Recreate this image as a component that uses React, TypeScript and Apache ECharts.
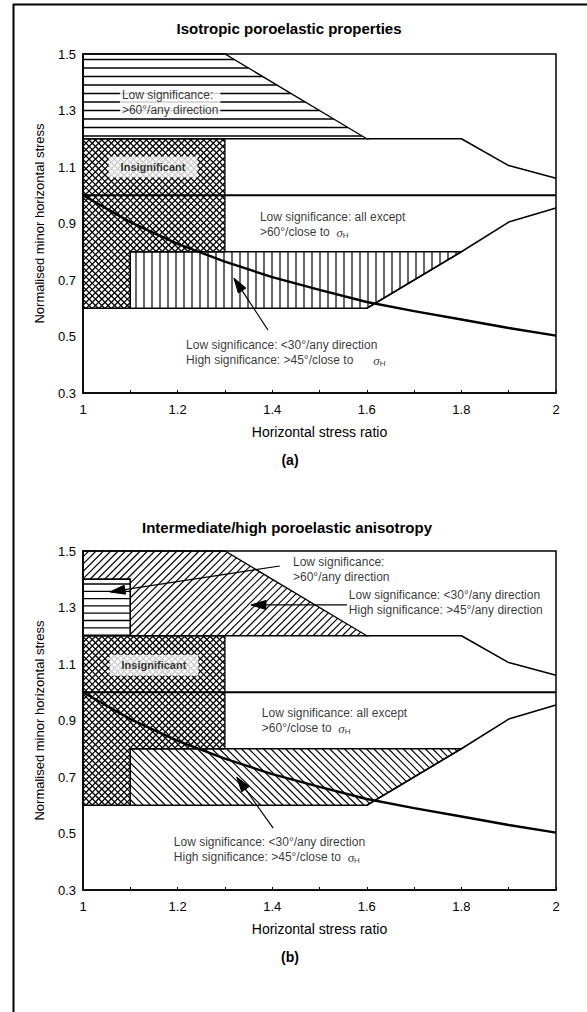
import React, { useEffect, useRef } from 'react';
import * as echarts from 'echarts';

const FONT = "'Liberation Sans', Arial, Helvetica, sans-serif";

// ---- tick labels ----
const xTickLabels = ['1', '1.2', '1.4', '1.6', '1.8', '2'];
const yTickLabels = ['0.3', '0.5', '0.7', '0.9', '1.1', '1.3', '1.5'];

// ---- decreasing curve ----
const curveX = [1, 1.1, 1.2, 1.3, 1.4, 1.5, 1.6, 1.7, 1.8, 1.9, 2];
const curveY = [1.0, 0.905, 0.828, 0.765, 0.71, 0.665, 0.622, 0.59, 0.56, 0.53, 0.503];

// ---- boundary lines ----
const upperBoundary = [[1.6, 1.2], [1.8, 1.2], [1.9, 1.105], [2, 1.06]];
const lowerBoundary = [[1.6, 0.6], [1.8, 0.8], [1.9, 0.905], [2, 0.955]];
const unityLine = [[1, 1], [2, 1]];

// ---- regions ----
const regionTopA = [[1, 1.5], [1.3, 1.5], [1.6, 1.2], [1, 1.2]];
const regionInsig = [[1, 1.2], [1.3, 1.2], [1.3, 0.8], [1.1, 0.8], [1.1, 0.6], [1, 0.6]];
const regionLow = [[1.1, 0.8], [1.8, 0.8], [1.6, 0.6], [1.1, 0.6]];
const regionTopB = [[1, 1.5], [1.3, 1.5], [1.6, 1.2], [1.1, 1.2], [1.1, 1.4], [1, 1.4]];
const regionSmallB = [[1, 1.2], [1.1, 1.2], [1.1, 1.4], [1, 1.4]];

// ---- arrows [x tail, y tail, x tip, y tip] ----
const arrowsA = [[1.391, 0.523, 1.319, 0.707]];
const arrowsB = [
  [1.416, 1.447, 1.057, 1.355],
  [1.558, 1.309, 1.355, 1.309],
  [1.402, 0.519, 1.325, 0.7],
];

// ---- annotation texts ----
const notesA = [
  { at: [1.078, 1.328], text: 'Low significance:\n>60°/any direction', boxed: true },
  { at: [1.148, 1.1], text: 'Insignificant', bold: true },
  { at: [1.374, 0.896], text: 'Low significance: all except\n>60°/close to  {s|σ}{h|H}' },
  { at: [1.218, 0.443], text: 'Low significance: <30°/any direction\nHigh significance: >45°/close to      {s|σ}{h|H}' },
];
const notesB = [
  { at: [1.444, 1.435], text: 'Low significance:\n>60°/any direction' },
  { at: [1.562, 1.318], text: 'Low significance: <30°/any direction\nHigh significance: >45°/any direction' },
  { at: [1.15, 1.096], text: 'Insignificant', bold: true },
  { at: [1.378, 0.9], text: 'Low significance: all except\n>60°/close to  {s|σ}{h|H}' },
  { at: [1.192, 0.443], text: 'Low significance: <30°/any direction\nHigh significance: >45°/close to  {s|σ}{h|H}' },
];

function hatchLines(pts: number[][], angleDeg: number, gap: number) {
  const a = (angleDeg * Math.PI) / 180;
  const dx = Math.cos(a), dy = Math.sin(a);
  const nx = -dy, ny = dx;
  const proj = pts.map((p) => p[0] * nx + p[1] * ny);
  const cmin = Math.min(...proj), cmax = Math.max(...proj);
  const segs: number[][] = [];
  for (let c = Math.ceil((cmin + 0.01) / gap) * gap; c < cmax; c += gap) {
    const ts: number[] = [];
    for (let i = 0; i < pts.length; i++) {
      const j = (i + 1) % pts.length;
      const A = pts[i], B = pts[j];
      const pa = proj[i], pb = proj[j];
      if ((pa <= c && c < pb) || (pb <= c && c < pa)) {
        const s = (c - pa) / (pb - pa);
        const qx = A[0] + s * (B[0] - A[0]);
        const qy = A[1] + s * (B[1] - A[1]);
        ts.push(qx * dx + qy * dy);
      }
    }
    ts.sort((u, v) => u - v);
    for (let k = 0; k + 1 < ts.length; k += 2) {
      segs.push([c * nx + ts[k] * dx, c * ny + ts[k] * dy, c * nx + ts[k + 1] * dx, c * ny + ts[k + 1] * dy]);
    }
  }
  return segs;
}

type Region = { poly: number[][]; angles: number[]; gap: number; lw: number };

function buildChart(idx: number, regions: Region[], arrows: number[][], notes: any[]) {
  const series: any[] = [];
  series.push({
    type: 'custom',
    xAxisIndex: idx,
    yAxisIndex: idx,
    silent: true,
    z: 2,
    data: regions.map((r) => [r.poly[0][0], r.poly[0][1]]),
    renderItem: (params: any, api: any) => {
      const r = regions[params.dataIndex];
      const pts = r.poly.map((p) => api.coord(p));
      const children: any[] = [];
      r.angles.forEach((ang) => {
        hatchLines(pts, ang, r.gap).forEach((s) => {
          children.push({
            type: 'line',
            shape: { x1: s[0], y1: s[1], x2: s[2], y2: s[3] },
            style: { stroke: '#000', lineWidth: r.lw },
          });
        });
      });
      children.push({
        type: 'polygon',
        shape: { points: pts },
        style: { fill: 'none', stroke: '#000', lineWidth: 1.3 },
      });
      return { type: 'group', children };
    },
  });
  const lineSer = (data: number[][], w: number) => ({
    type: 'line',
    xAxisIndex: idx,
    yAxisIndex: idx,
    data,
    symbol: 'none',
    silent: true,
    z: 5,
    lineStyle: { color: '#000', width: w },
  });
  series.push(lineSer(curveX.map((x, i) => [x, curveY[i]]), 2.4));
  series.push(lineSer(upperBoundary, 1.6));
  series.push(lineSer(lowerBoundary, 1.6));
  series.push(lineSer(unityLine, 2));
  series.push({
    type: 'custom',
    xAxisIndex: idx,
    yAxisIndex: idx,
    silent: true,
    z: 8,
    encode: { x: [0, 2], y: [1, 3] },
    data: arrows,
    renderItem: (params: any, api: any) => {
      const p1 = api.coord([api.value(0), api.value(1)]);
      const p2 = api.coord([api.value(2), api.value(3)]);
      const ang = Math.atan2(p2[1] - p1[1], p2[0] - p1[0]);
      const L = 15, W = 4.5;
      const c = Math.cos(ang), s = Math.sin(ang);
      const bx = p2[0] - L * c, by = p2[1] - L * s;
      return {
        type: 'group',
        children: [
          { type: 'line', shape: { x1: p1[0], y1: p1[1], x2: bx, y2: by }, style: { stroke: '#000', lineWidth: 1.2 } },
          {
            type: 'polygon',
            shape: { points: [[p2[0], p2[1]], [bx - W * s, by + W * c], [bx + W * s, by - W * c]] },
            style: { fill: '#000', stroke: '#000', lineWidth: 1 },
          },
        ],
      };
    },
  });
  series.push({
    type: 'scatter',
    xAxisIndex: idx,
    yAxisIndex: idx,
    silent: true,
    z: 10,
    symbolSize: 1,
    itemStyle: { color: 'rgba(0,0,0,0)' },
    data: notes.map((n) => ({
      value: n.at,
      label: {
        show: true,
        position: 'inside',
        align: n.bold ? 'center' : 'left',
        verticalAlign: 'middle',
        formatter: n.text,
        fontFamily: FONT,
        fontSize: n.bold ? 11 : 12,
        fontWeight: n.bold ? 'bold' : 'normal',
        lineHeight: 15,
        color: '#000',
        backgroundColor: n.boxed || n.bold ? '#fff' : 'transparent',
        padding: n.bold ? [3, 12, 3, 12] : n.boxed ? [0, 2, 0, 2] : 0,
        rich: {
          s: { fontFamily: "'Liberation Serif', serif", fontStyle: 'italic', fontSize: 13, color: '#000', lineHeight: 15 },
          h: { fontFamily: FONT, fontSize: 8, color: '#000', verticalAlign: 'bottom' },
        },
      },
    })),
  });
  return series;
}

export default function App() {
  const ref = useRef<HTMLDivElement>(null);
  useEffect(() => {
    document.body.style.margin = '0';
    if (!ref.current) return;
    const chart = echarts.init(ref.current, undefined, { renderer: 'svg' });

    const grids = [
      { left: 83, top: 54, width: 473, height: 339 },
      { left: 83, top: 551, width: 473, height: 339 },
    ];

    const regionsA: Region[] = [
      { poly: regionTopA, angles: [0], gap: 8.5, lw: 1.4 },
      { poly: regionInsig, angles: [45, -45], gap: 4.5, lw: 1.25 },
      { poly: regionLow, angles: [90], gap: 8, lw: 1.2 },
    ];
    const regionsB: Region[] = [
      { poly: regionTopB, angles: [-45], gap: 5.2, lw: 1.1 },
      { poly: regionSmallB, angles: [0], gap: 7.3, lw: 1.3 },
      { poly: regionInsig, angles: [45, -45], gap: 4.5, lw: 1.25 },
      { poly: regionLow, angles: [45], gap: 5.2, lw: 1.1 },
    ];

    const xAxis = (i: number) => ({
      type: 'value',
      gridIndex: i,
      min: 1,
      max: 2,
      interval: 0.1,
      name: 'Horizontal stress ratio',
      nameLocation: 'middle',
      nameGap: 32,
      nameTextStyle: { fontFamily: FONT, fontSize: 14, color: '#000' },
      axisLine: { show: true, lineStyle: { color: '#000', width: 1.5 } },
      axisTick: { show: true, inside: true, length: 3, lineStyle: { color: '#000' } },
      splitLine: { show: false },
      axisLabel: {
        fontFamily: FONT,
        fontSize: 13,
        color: '#000',
        margin: 10,
        formatter: (v: number) => {
          const k = Math.round((v - 1) * 10);
          return k % 2 === 0 ? xTickLabels[k / 2] : '';
        },
      },
    });
    const yAxis = (i: number) => ({
      type: 'value',
      gridIndex: i,
      min: 0.3,
      max: 1.5,
      interval: 0.1,
      name: 'Normalised minor horizontal stress',
      nameLocation: 'middle',
      nameGap: 37,
      nameTextStyle: { fontFamily: FONT, fontSize: 13, color: '#000' },
      axisLine: { show: true, lineStyle: { color: '#000', width: 1.5 } },
      axisTick: { show: false },
      splitLine: { show: false },
      axisLabel: {
        fontFamily: FONT,
        fontSize: 13,
        color: '#000',
        margin: 7,
        formatter: (v: number) => {
          const k = Math.round((v - 0.3) * 10);
          return k % 2 === 0 ? yTickLabels[k / 2] : '';
        },
      },
    });

    chart.setOption({
      animation: false,
      backgroundColor: '#fff',
      grid: grids.map((g) => ({ ...g, show: true, borderColor: '#000', borderWidth: 1.5, backgroundColor: 'transparent' })),
      xAxis: [xAxis(0), xAxis(1)],
      yAxis: [yAxis(0), yAxis(1)],
      series: [...buildChart(0, regionsA, arrowsA, notesA), ...buildChart(1, regionsB, arrowsB, notesB)],
      graphic: [
        { type: 'line', shape: { x1: 13, y1: 4.5, x2: 587, y2: 4.5 }, style: { stroke: '#000', lineWidth: 2 } },
        { type: 'line', shape: { x1: 13.5, y1: 4, x2: 13.5, y2: 1012 }, style: { stroke: '#000', lineWidth: 2 } },
        { type: 'text', x: 289, y: 28, style: { text: 'Isotropic poroelastic properties', font: `bold 15px ${FONT}`, fill: '#000', align: 'center', verticalAlign: 'middle' } },
        { type: 'text', x: 287, y: 527, style: { text: 'Intermediate/high poroelastic anisotropy', font: `bold 15px ${FONT}`, fill: '#000', align: 'center', verticalAlign: 'middle' } },
        { type: 'text', x: 290, y: 460, style: { text: '(a)', font: `bold 14px ${FONT}`, fill: '#000', align: 'center', verticalAlign: 'middle' } },
        { type: 'text', x: 290, y: 957, style: { text: '(b)', font: `bold 14px ${FONT}`, fill: '#000', align: 'center', verticalAlign: 'middle' } },
      ],
    });
    return () => chart.dispose();
  }, []);
  return <div ref={ref} style={{ width: 587, height: 1012 }} />;
}
